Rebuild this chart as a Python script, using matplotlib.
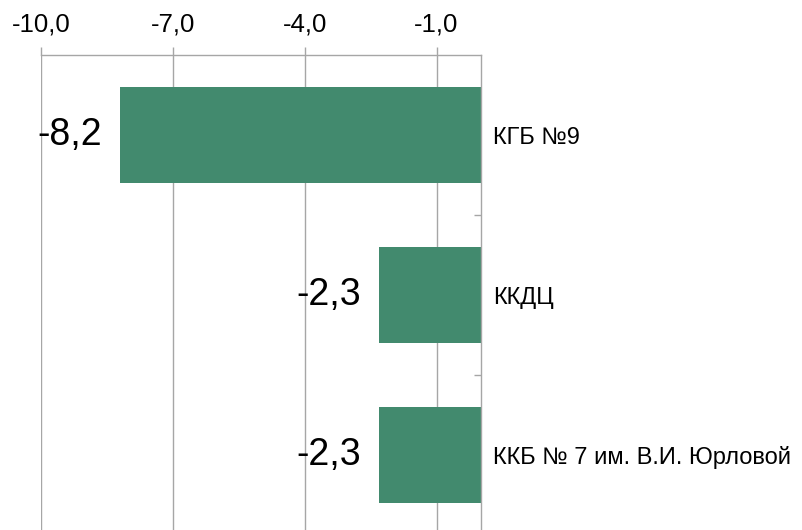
import numpy as np
import matplotlib.pyplot as plt
from matplotlib.ticker import FixedLocator

plt.rcParams['font.family'] = ['Liberation Sans', 'DejaVu Sans']

# данные
categories = ['КГБ №9', 'ККДЦ', 'ККБ № 7 им. В.И. Юрловой']
values = [-8.2, -2.3, -2.3]
x_ticks = [-10.0, -7.0, -4.0, -1.0]

bar_color = '#428A6E'
grid_color = '#A6A6A6'


def fmt(v):
    return '{:.1f}'.format(v).replace('.', ',')


fig = plt.figure(figsize=(8.02, 5.30), dpi=100)
ax = fig.add_axes([41 / 802, 1 - 535 / 530, (480.5 - 41) / 802, 480 / 530])

y = np.arange(len(categories))
ax.barh(y, values, height=0.6, color=bar_color, zorder=3)

ax.set_xlim(-10, 0)
ax.set_ylim(len(categories) - 0.5, -0.5)

# ось X сверху
ax.xaxis.tick_top()
ax.set_xticks(x_ticks)
ax.set_xticklabels([fmt(t) for t in x_ticks], fontsize=18.5)
ax.tick_params(axis='x', direction='out', length=6, width=1, color=grid_color, pad=7)
ax.grid(axis='x', color=grid_color, linewidth=1, zorder=0)
ax.set_axisbelow(True)

# ось Y справа
ax.yaxis.tick_right()
ax.set_yticks(y)
ax.set_yticklabels(categories, fontsize=17)
ax.tick_params(axis='y', which='major', length=0, pad=9)
ax.yaxis.set_minor_locator(FixedLocator(y[:-1] + 0.5))
ax.tick_params(axis='y', which='minor', direction='in', length=5, width=1, color=grid_color)

for s in ['left', 'bottom']:
    ax.spines[s].set_visible(False)
for s in ['top', 'right']:
    ax.spines[s].set_color(grid_color)
    ax.spines[s].set_linewidth(1)
    ax.spines[s].set_zorder(4)

# подписи значений
for yi, v in zip(y, values):
    ax.annotate(fmt(v), (v, yi), xytext=(-13, 0), textcoords='offset points',
                ha='right', va='center', fontsize=27, clip_on=False)

fig.savefig('out.png', dpi=100)
